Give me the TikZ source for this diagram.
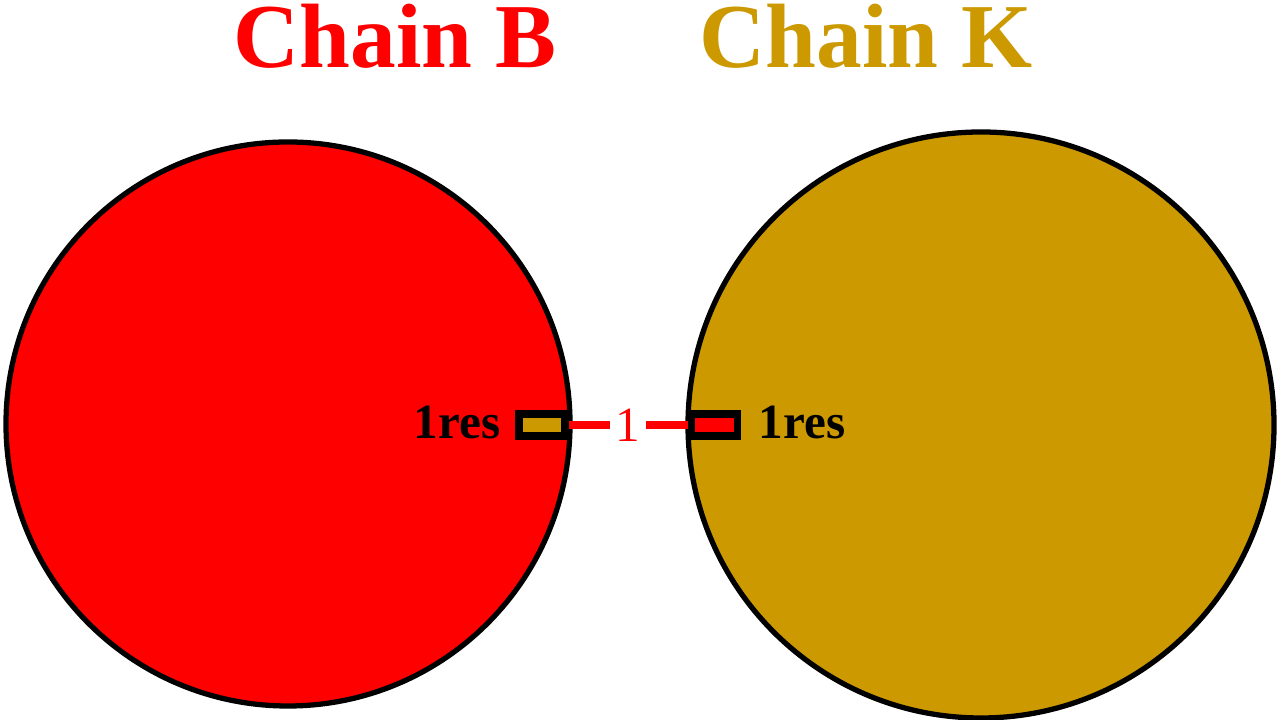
\documentclass[tikz,border=0pt]{standalone}
\usepackage{fontspec}
\setmainfont{Liberation Serif}
\definecolor{chainred}{RGB}{255,0,0}
\definecolor{chaingold}{RGB}{204,153,0}
\begin{document}
\begin{tikzpicture}[
    chain/.style={circle, draw=black, line width=1.5pt, inner sep=0pt},
    title/.style={font=\fontsize{26}{26}\selectfont\bfseries, anchor=base},
    resbox/.style={rectangle, draw=black, line width=2pt, minimum width=4.6mm, minimum height=2.2mm, inner sep=0pt},
    reslabel/.style={font=\fontsize{14}{14}\selectfont\bfseries, text=black, inner sep=0pt}
  ]
  \useasboundingbox (0,0) rectangle (12.8,7.2);
  \node[title, text=chainred] (titleB) at (3.95,6.52) {Chain B};
  \node[title, text=chaingold] (titleK) at (8.66,6.52) {Chain K};
  \node[chain, fill=chainred, minimum size=56.4mm] (chainB) at (2.88,2.96) {};
  \node[chain, fill=chaingold, minimum size=58.6mm] (chainK) at (9.81,2.95) {};
  \node[resbox, fill=chaingold] (resB) at (5.42,2.95) {};
  \node[resbox, fill=chainred] (resK) at (7.14,2.95) {};
  \node[reslabel, anchor=base east] (labB) at (5.01,2.81) {1res};
  \node[reslabel, anchor=base west] (labK) at (7.58,2.81) {1res};
  \draw[chainred, line width=2pt] (resB) -- node[fill=white, inner sep=1.5pt, text=chainred, font=\fontsize{14}{14}\selectfont] (nhb) {1} (resK);
\end{tikzpicture}
\end{document}
